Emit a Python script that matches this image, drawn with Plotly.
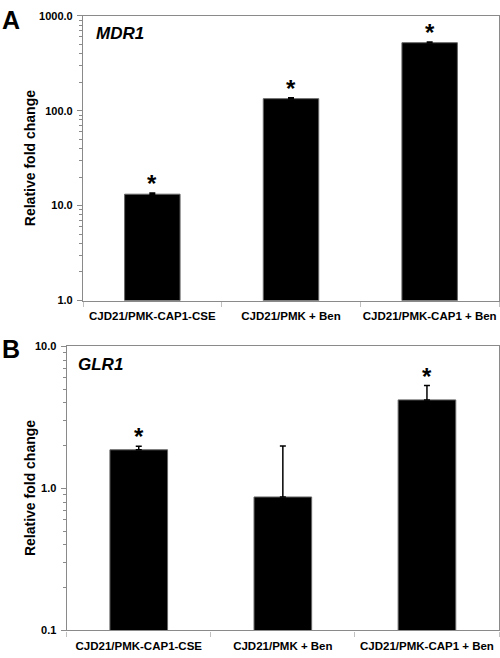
import numpy as np
import plotly.graph_objects as go

categories = ["CJD21/PMK-CAP1-CSE", "CJD21/PMK + Ben", "CJD21/PMK-CAP1 + Ben"]
mdr1_values = [13.2, 134.0, 521.0]
mdr1_errors = [0.4, 3.0, 8.0]
mdr1_sig = [True, True, True]
glr1_values = [1.87, 0.87, 4.2]
glr1_errors = [0.11, 1.12, 1.1]
glr1_sig = [True, False, True]
mdr1_ticks = [1, 10, 100, 1000]
mdr1_ticktext = ["1.0", "10.0", "100.0", "1000.0"]
glr1_ticks = [0.1, 1, 10]
glr1_ticktext = ["0.1", "1.0", "10.0"]

W, H = 500, 658
FONT = "Liberation Sans, Arial, sans-serif"

def px_x(v):
    return v / W

def px_y(v):
    return (H - v) / H

def minor_vals(ticks):
    return [t * k for t in ticks[:-1] for k in range(2, 10)]

fig = go.Figure()
fig.add_trace(go.Bar(x=categories, y=mdr1_values, width=0.4,
                     marker=dict(color="black", line=dict(color="#666", width=1)),
                     error_y=dict(type="data", array=mdr1_errors, arrayminus=[0]*3,
                                  symmetric=False, color="black", thickness=1.5, width=3),
                     xaxis="x", yaxis="y", showlegend=False, hoverinfo="skip"))
fig.add_trace(go.Bar(x=categories, y=glr1_values, width=0.4,
                     marker=dict(color="black", line=dict(color="#666", width=1)),
                     error_y=dict(type="data", array=glr1_errors, arrayminus=[0]*3,
                                  symmetric=False, color="black", thickness=1.5, width=3),
                     xaxis="x2", yaxis="y2", showlegend=False, hoverinfo="skip"))

axis_common = dict(showline=True, linecolor="#8a8a8a", linewidth=1.2, mirror=True,
                   showgrid=False, zeroline=False)
xfont = dict(size=11.5, family=FONT, weight="bold")
yfont = dict(size=11, family=FONT, weight="bold")
fig.update_layout(
    width=W, height=H, margin=dict(l=0, r=0, t=0, b=0),
    plot_bgcolor="white", paper_bgcolor="white",
    font=dict(family=FONT, color="black"),
    xaxis=dict(domain=[px_x(83), px_x(499)], anchor="y", ticks="outside", tickson="boundaries",
               ticklen=5, tickcolor="#c0c0c0", tickangle=0, tickfont=xfont,
               ticklabelstandoff=5, **axis_common),
    yaxis=dict(domain=[px_y(300), px_y(10)], anchor="x", type="log", range=[0, 3],
               tickmode="array", tickvals=mdr1_ticks, ticktext=mdr1_ticktext,
               ticks="outside", ticklen=5, tickcolor="#8a8a8a",
               minor=dict(tickmode="array", tickvals=minor_vals(mdr1_ticks), ticks="outside",
                          ticklen=3, tickcolor="#8a8a8a", showgrid=False),
               tickfont=yfont, ticklabelstandoff=2, **axis_common),
    xaxis2=dict(domain=[px_x(66.7), px_x(499)], anchor="y2", ticks="outside", tickson="boundaries",
                ticklen=5, tickcolor="#c0c0c0", tickangle=0, tickfont=xfont,
                ticklabelstandoff=5, **axis_common),
    yaxis2=dict(domain=[px_y(636), px_y(346.7)], anchor="x2", type="log", range=[-1, 1],
                tickmode="array", tickvals=glr1_ticks, ticktext=glr1_ticktext,
                ticks="outside", ticklen=5, tickcolor="#8a8a8a",
                minor=dict(tickmode="array", tickvals=minor_vals(glr1_ticks), ticks="outside",
                           ticklen=3, tickcolor="#8a8a8a", showgrid=False),
                tickfont=yfont, ticklabelstandoff=2, **axis_common),
)

ann = []
for xref, yref, vals, errs, sig in [("x", "y", mdr1_values, mdr1_errors, mdr1_sig),
                                     ("x2", "y2", glr1_values, glr1_errors, glr1_sig)]:
    for c, v, e, s in zip(categories, vals, errs, sig):
        if s:
            ann.append(dict(x=c, y=np.log10(v + e), xref=xref, yref=yref, text="*",
                            showarrow=False, xanchor="center", yanchor="bottom", yshift=-6,
                            font=dict(size=24, family=FONT, weight="bold")))

ann += [
    dict(x=0, y=px_y(14), xref="paper", yref="paper", text="A", showarrow=False,
         xanchor="left", yanchor="middle", font=dict(size=25, family=FONT, weight="bold")),
    dict(x=0, y=px_y(349), xref="paper", yref="paper", text="B", showarrow=False,
         xanchor="left", yanchor="middle", font=dict(size=25, family=FONT, weight="bold")),
    dict(x=px_x(94), y=px_y(28), xref="paper", yref="paper", text="<i>MDR1</i>", showarrow=False,
         xanchor="left", yanchor="middle", font=dict(size=17, family=FONT, weight="bold")),
    dict(x=px_x(76), y=px_y(365), xref="paper", yref="paper", text="<i>GLR1</i>", showarrow=False,
         xanchor="left", yanchor="middle", font=dict(size=17, family=FONT, weight="bold")),
    dict(x=px_x(30), y=px_y(155), xref="paper", yref="paper", text="Relative fold change",
         showarrow=False, textangle=-90, xanchor="center", yanchor="middle",
         font=dict(size=14, family=FONT, weight="bold")),
    dict(x=px_x(30), y=px_y(491), xref="paper", yref="paper", text="Relative fold change",
         showarrow=False, textangle=-90, xanchor="center", yanchor="middle",
         font=dict(size=14, family=FONT, weight="bold")),
]
fig.update_layout(annotations=ann)

fig.write_html("out.html", config={"displayModeBar": False},
               post_script="document.body.style.margin='0';document.body.style.overflow='hidden';")
